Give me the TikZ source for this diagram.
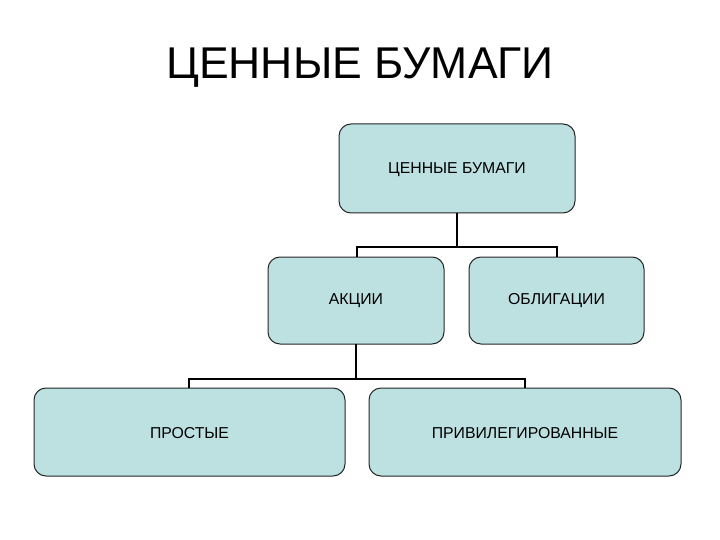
\documentclass[tikz,border=0pt]{standalone}
\usepackage{fontspec}
\setmainfont{Liberation Sans}
\begin{document}
\begin{tikzpicture}[x=1pt,y=-1pt,
  box/.style={draw=black!85, line width=1pt, fill=boxfill, rounded corners=12pt},
  lbl/.style={font=\fontsize{15.8}{18}\selectfont},
  conn/.style={line width=2.8pt, black}]
\definecolor{boxfill}{HTML}{BDE0E1}
\useasboundingbox (0,0) rectangle (720,540);
\node[font=\fontsize{44.5}{50}\selectfont] (title) at (360,68) {ЦЕННЫЕ БУМАГИ};
\draw[box] (339,124) rectangle (575,213);
\node[lbl] (cb) at (457,170) {ЦЕННЫЕ БУМАГИ};
\draw[box] (268,257) rectangle (444,344);
\node[lbl] (ak) at (356,301) {АКЦИИ};
\draw[box] (469,257) rectangle (644,344);
\node[lbl] (ob) at (556.5,301) {ОБЛИГАЦИИ};
\draw[box] (34,388) rectangle (345,476);
\node[lbl] (pr) at (189.5,433) {ПРОСТЫЕ};
\draw[box] (369,388) rectangle (681,476);
\node[lbl] (pv) at (525,433) {ПРИВИЛЕГИРОВАННЫЕ};
\coordinate (cbB) at (457,213);
\coordinate (akT) at (357,257);
\coordinate (obT) at (557,257);
\coordinate (akB) at (356,344);
\coordinate (prT) at (189,388);
\coordinate (pvT) at (525,388);
\draw[conn] (cbB) -- (457,247) -| (akT);
\draw[conn] (457,247) -| (obT);
\draw[conn] (akB) -- (356,379) -| (prT);
\draw[conn] (356,379) -| (pvT);
\end{tikzpicture}
\end{document}
